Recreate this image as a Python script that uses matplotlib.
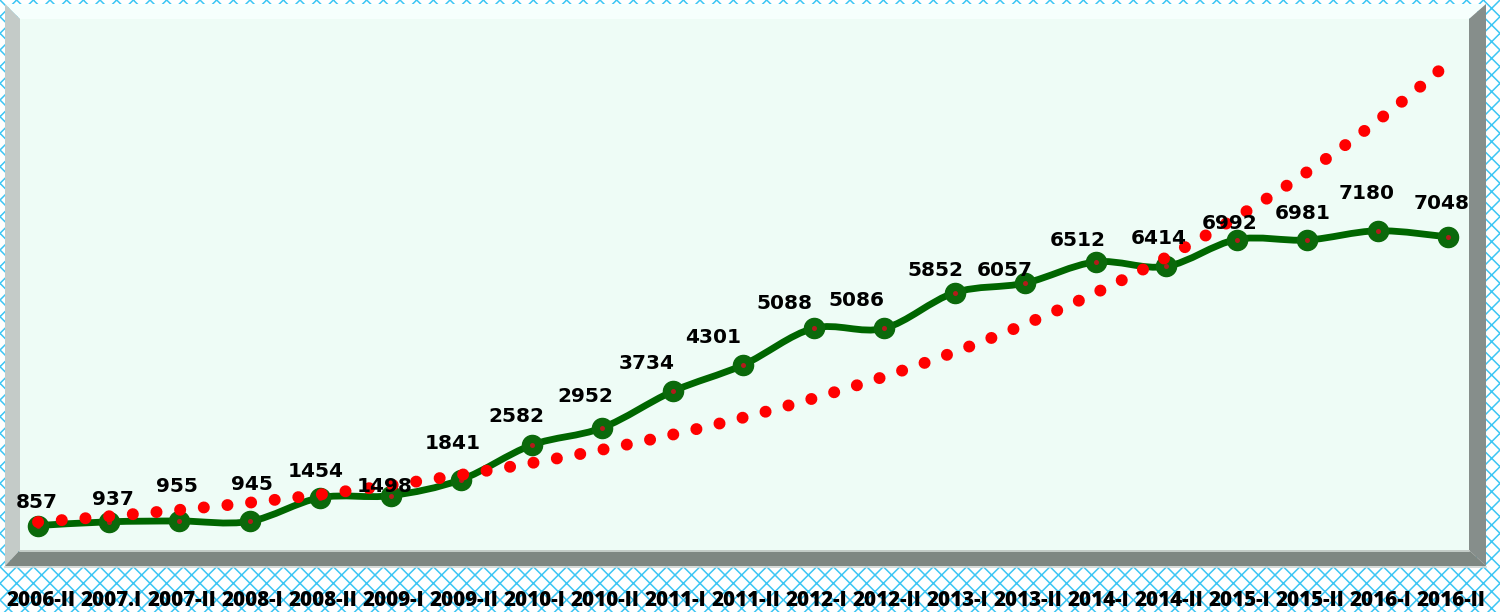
import numpy as np
import matplotlib
matplotlib.use('Agg')
import matplotlib.pyplot as plt
from matplotlib.patches import Polygon, Rectangle, PathPatch
from matplotlib.path import Path
from matplotlib.transforms import ScaledTranslation

# ---------------- data ----------------
periods = ['2006-II', '2007.I', '2007-II', '2008-I', '2008-II', '2009-I', '2009-II',
           '2010-I', '2010-II', '2011-I', '2011-II', '2012-I', '2012-II', '2013-I',
           '2013-II', '2014-I', '2014-II', '2015-I', '2015-II', '2016-I', '2016-II']
values = [857, 937, 955, 945, 1454, 1498, 1841, 2582, 2952, 3734, 4301,
          5088, 5086, 5852, 6057, 6512, 6414, 6992, 6981, 7180, 7048]

# label placement (pixel offsets of label centre from its point; layout only)
label_dx = [-1, 4.5, -2, 2.5, -4, -5.5, -8, -15.5, -17, -25.5, -30,
            -29.5, -28, -19.5, -20, -17.5, -7, -6.5, -4, -10.5, -6]
label_dy = [25, 24, 36, 38, 28, 11, 38, 30, 33, 29, 29,
            26, 29, 24, 14, 23, 29, 18, 28, 39, 35]

# ---------------- figure ----------------
W, H = 1500, 612
fig = plt.figure(figsize=(W / 100, H / 100), dpi=100)
hatch_col = '#3CC6F4'
plt.rcParams['hatch.color'] = hatch_col
plt.rcParams['hatch.linewidth'] = 1.1

bg = fig.add_axes([0, 0, 1, 1])
bg.set_xlim(0, W)
bg.set_ylim(H, 0)
bg.axis('off')
bg.add_patch(Rectangle((0, 0), W, H, facecolor='white', edgecolor=hatch_col,
                       hatch='xx', lw=0))

# panel (walls and floor)
oL, oT, oR, oB = 5, 4, 1486, 566
iL, iT, iR, iB = 20, 19, 1469, 550
bg.add_patch(Polygon([(iL, iT), (iR, iT), (iR, iB), (iL, iB)], closed=True,
                     facecolor='#EEFCF6', lw=0))
bg.add_patch(Polygon([(oL, oT), (oR, oT), (iR, iT), (iL, iT)], closed=True,
                     facecolor='#F6FFFD', lw=0))
bg.add_patch(Polygon([(oL, oT), (iL, iT), (iL, iB), (oL, oB)], closed=True,
                     facecolor='#C4CBC8', lw=0))
bg.add_patch(Polygon([(iR, iT), (oR, oT), (oR, oB), (iR, iB)], closed=True,
                     facecolor='#868E8B', lw=0))
bg.add_patch(Polygon([(oL, oB), (iL, iB), (iR, iB), (oR, oB)], closed=True,
                     facecolor='#7E8782', lw=0))
bg.plot([iL, iR], [iB + 0.5, iB + 0.5], color='#D2DAD6', lw=1.2)
bg.plot([oL, oR], [oB + 0.5, oB + 0.5], color='#D0D6D3', lw=1.2)

# ---------------- data axes ----------------
zero_px = 565.5
scale = 21.45          # value units per pixel
x0px, step = 38, 70.5  # pixel position of first category, spacing
ax = fig.add_axes([0, (H - zero_px) / H, 1, (zero_px - 18) / H])
ax.set_facecolor('none')
ax.set_xlim(-x0px / step, (W - x0px) / step)
ax.set_ylim(0, (zero_px - 18) * scale)
for s in ax.spines.values():
    s.set_visible(False)
ax.set_yticks([])

n = len(values)
x = np.arange(n, dtype=float)
y = np.array(values, dtype=float)

# smoothed series line (cubic Bezier through the points)
verts = [(x[0], y[0])]
codes = [Path.MOVETO]
for i in range(n - 1):
    p0 = np.array([x[max(i - 1, 0)], y[max(i - 1, 0)]])
    p1 = np.array([x[i], y[i]])
    p2 = np.array([x[i + 1], y[i + 1]])
    p3 = np.array([x[min(i + 2, n - 1)], y[min(i + 2, n - 1)]])
    c1 = p1 + (p2 - p0) / 6.0
    c2 = p2 - (p3 - p1) / 6.0
    verts += [tuple(c1), tuple(c2), tuple(p2)]
    codes += [Path.CURVE4] * 3
green = '#006600'
ax.add_patch(PathPatch(Path(verts, codes), facecolor='none', edgecolor=green,
                       lw=4.9, capstyle='round', joinstyle='round', zorder=3))
ax.plot(x, y, linestyle='none', marker='o', markersize=14.5,
        markerfacecolor='#0B690B', markeredgecolor='#0B690B', zorder=4)
ax.plot(x, y, linestyle='none', marker='o', markersize=3.6,
        markerfacecolor='#B31B1B', markeredgecolor='none', zorder=5)

# exponential trendline
coef = np.polyfit(x, np.log(y), 1)
xt = np.linspace(x[0], x[-1], 600)
yt = np.exp(np.polyval(coef, xt))
ax.plot(xt, yt, color='#FF0000', lw=8.6, linestyle=(0, (0.01, 1.98)),
        dash_capstyle='round', zorder=6)

# data labels
for i, v in enumerate(values):
    ax.annotate(f'{v}', (x[i], v), xytext=(label_dx[i], label_dy[i] - 7),
                textcoords='offset pixels', ha='center', va='baseline',
                fontsize=14.5, fontweight='bold', family='DejaVu Sans',
                color='#000000', zorder=7)

# category labels
ax.set_xticks(x, periods)
ax.tick_params(axis='x', length=0, pad=18)
shift = ScaledTranslation(3 / 100, 0, fig.dpi_scale_trans)
for lab in ax.get_xticklabels():
    lab.set_fontfamily(['Open Sans', 'DejaVu Sans'])
    lab.set_fontweight('heavy')
    lab.set_fontsize(14.8)
    lab.set_color('#000000')
    lab.set_transform(lab.get_transform() + shift)

fig.savefig('out.png', dpi=100)
